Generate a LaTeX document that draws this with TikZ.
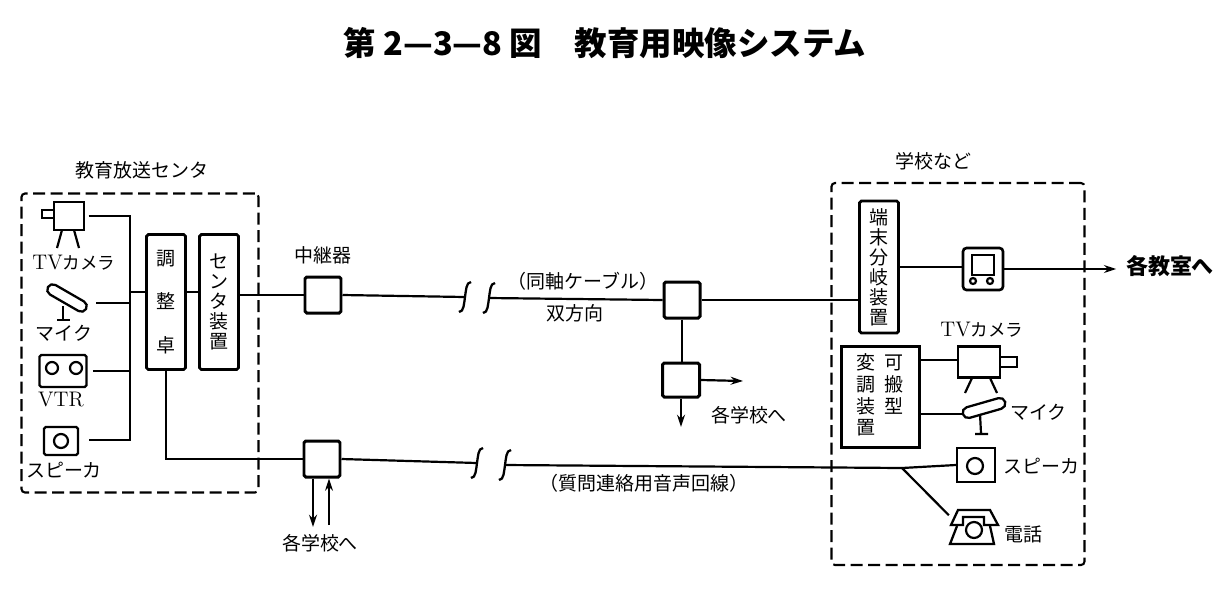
\documentclass[tikz,border=0pt]{standalone}
\usepackage{fontspec}
\newfontfamily\cjk{Noto Sans CJK JP}
\usetikzlibrary{arrows.meta, positioning, calc, shapes.misc}

\begin{document}
\begin{tikzpicture}[
    x=0.02cm, y=-0.02cm,
    line width=1.25pt,
    wh/.style 2 args={minimum width=#1*0.02cm, minimum height=#2*0.02cm, inner sep=0pt},
    unit/.style={draw, line width=1.6pt, rounded corners=1pt, align=center, font=\cjk\fontsize{10.8}{11.38}\selectfont},
    relay/.style={draw, line width=1.7pt, rounded corners=1pt, wh={36}{36}},
    gadget/.style={draw, line width=1.3pt},
    group/.style={draw, line width=1.2pt, dash pattern=on 0.24cm off 0.11cm},
    lbl/.style={font=\cjk\fontsize{10.8}{12}\selectfont, inner sep=0pt},
    arrow/.style={-{Stealth[length=7pt, width=4.5pt]}, line width=1.25pt},
    mike/.style={gadget, rounded rectangle, wh={44}{11}},
    brk/.pic={\draw[line width=1.3pt] (6,-15) .. controls (1,-15) and (1,-6) .. (0,0) .. controls (-1,6) and (-1,15) .. (-6,15);}
]
    \useasboundingbox (0,0) rectangle (1229,589);

    % Title
    \node[font=\cjk\bfseries\fontsize{18.5}{20}\selectfont, inner sep=0pt] (title) at (605,43) {第 2—3—8 図\hspace{1em}教育用映像システム};

    % Dashed groups
    \node[group, wh={237}{299}, rounded corners=2pt] (sendbox) at (140,343) {};
    \node[group, wh={253}{382}, rounded corners=2pt] (schoolbox) at (958,374) {};
    \node[lbl, above=7pt of sendbox.north, xshift=1pt] (sendlbl) {教育放送センタ};
    \node[lbl, above=6pt of schoolbox.north, xshift=-14pt] (schoollbl) {学校など};

    % Center side units
    \node[unit, wh={39}{135}] (adj) at (166,302) {調\\[13.2pt]整\\[13.2pt]卓};
    \node[unit, wh={39}{135}] (cen) at (219,302) {セ\\ン\\タ\\装\\置};
    \node[relay] (relA) at (323,295) {};
    \node[relay] (relB) at (322,459) {};
    \node[lbl, above=6pt of relA] (relAlbl) {中継器};
    \node[lbl] (relBlbl) at (320,543) {各学校へ};

    % Left gadgets
    \node[gadget, wh={30}{28}] (camL) at (69,216) {};
    \draw[gadget] (camL.west |- 0,210) -- (42,210) -- (42,218) -- (camL.west |- 0,218);
    \draw (62,230) -- (57,248) (74,230) -- (79,248);
    \node[font=\fontsize{12}{12}\selectfont, inner sep=0pt] (camLlbl) at (74,263) {TV\cjk\fontsize{10}{12}\selectfont カメラ};
    \node[mike, rotate=-30] (micL) at (67,298) {};
    \draw (63,306) -- (63,320) (57,320) -- (70,320);
    \node[lbl] (micLlbl) at (64,333) {マイク};
    \node[gadget, rounded corners=1pt, wh={47}{32}] (vtrL) at (63,371) {};
    \draw (52,368) circle (6) (76,368) circle (6);
    \node[font=\fontsize{12}{12}\selectfont, inner sep=0pt] (vtrLlbl) at (61,400) {VTR};
    \node[gadget, rounded corners=1pt, wh={34}{28}] (spkL) at (61,441) {};
    \draw (61,441) circle (7);
    \node[lbl] (spkLlbl) at (64,470) {スピーカ};

    % Left wiring
    \coordinate (hub) at (130,292);
    \draw[shorten <=2pt] (camL.east) -| (hub);
    \draw (hub) |- ($(spkL.east)+(10,-1)$);
    \draw ($(micL.center)+(29,5)$) -| (hub);
    \draw[shorten <=3pt] (vtrL.east) -- (vtrL.east -| hub);
    \draw (hub) -- (hub -| adj.west);
    \draw (adj.east |- hub) -- (cen.west |- hub);
    \draw (cen.east |- relA) -- (relA.west);
    \draw (adj.south) |- (relB.west);

    % Coaxial line
    \coordinate (brkA) at (465,297);
    \coordinate (brkB) at (489,298);
    \coordinate (brkC) at (477,463);
    \coordinate (brkD) at (505,465);
    \pic at (brkA) {brk};
    \pic at (brkB) {brk};
    \pic at (brkC) {brk};
    \pic at (brkD) {brk};
    \node[lbl] (coaxlbl) at (583,281) {（同軸ケーブル）};
    \node[lbl] (duplbl) at (575,313) {双方向};
    \node[relay] (tap) at (682,300) {};
    \node[relay, wh={37}{34}] (split) at (681,380) {};
    \node[lbl] (splitlbl) at (749,415) {各学校へ};
    \coordinate (splitR) at (743,381);
    \coordinate (splitD) at (681,427);
    \draw (relA.east) -- (brkA);
    \draw (brkB) -- (tap.west);
    \draw (tap.south) -- (tap.south |- split.north);
    \draw[arrow] (split.east) -- (splitR);
    \draw[arrow] (split.south) -- (splitD);

    % Audio line
    \node[lbl] (audiolbl) at (644,483) {（質問連絡用音声回線）};
    \coordinate (fork) at (902,468);
    \coordinate (downB) at (313,527);
    \coordinate (upB) at (329,525);
    \draw (relB.east) -- (brkC);
    \draw (brkD) -- (fork);
    \draw[arrow] (relB.south -| downB) -- (downB);
    \draw[arrow] (upB) -- (relB.south -| upB);

    % School side units
    \node[unit, wh={39}{132}] (term) at (879,267) {端\\末\\分\\岐\\装\\置};
    \node[unit, line width=1.7pt, rounded corners=0pt, wh={78}{101}] (mod) at (880,397) {\begin{tabular}{@{}c@{\hskip 5pt}c@{}}変&可\\調&搬\\装&型\\置&\end{tabular}};
    \draw (tap.east) -- (tap.east -| term.west);

    % Monitor
    \node[gadget, line width=1.5pt, rounded corners=2pt, wh={40}{42}] (mon) at (983,269) {};
    \draw (972,255) rectangle (994,275);
    \draw (973,281) circle (3) (990,281) circle (3);
    \node[font=\cjk\bfseries\fontsize{12.5}{14}\selectfont, inner sep=0pt] (roomlbl) at (1170,266) {各教室へ};
    \draw (mon.west |- term.east) -- (term.east);
    \draw[arrow, shorten >=5pt] (mon.east) -- (roomlbl.west |- mon.east);

    % Right gadgets
    \node[gadget, wh={42}{31}] (camR) at (979,362) {};
    \draw[gadget] (camR.east |- 0,357) -- (1017,357) -- (1017,367) -- (camR.east |- 0,367);
    \draw (972,378) -- (965,393) (990,378) -- (997,393);
    \node[font=\fontsize{12}{12}\selectfont, inner sep=0pt] (camRlbl) at (982,330) {TV\cjk\fontsize{10}{12}\selectfont カメラ};
    \node[mike, rotate=16] (micR) at (984,408) {};
    \draw (980,414) -- (981,433) (975,434) -- (988,434);
    \node[lbl, anchor=west] (micRlbl) at (1009,412) {マイク};
    \node[gadget, wh={38}{34}] (spkR) at (976,465) {};
    \draw (975,466) circle (8);
    \node[lbl, anchor=west] (spkRlbl) at (1002,466) {スピーカ};
    \node[wh={48}{36}] (phone) at (974,527) {};
    \draw[gadget] (951,525) -- (958,510) -- (990,510) -- (998,525) -- (984,525) -- (984,517) -- (963,517) -- (963,525) -- cycle;
    \draw[gadget] (957,526) -- (950,544) -- (994,544) -- (990,526);
    \draw[fill=white] (974,530) circle (8);
    \node[lbl, anchor=west] (phonelbl) at (1003,534) {電話};

    % School side wiring
    \draw (mod.east |- camR.west) ++(0,-2) -- (camR.west |- 0,360);
    \draw (mod.east |- micR.west) -- (micR.west);
    \draw (fork) -- (spkR.west);
    \draw (fork) -- (phone.155);
\end{tikzpicture}
\end{document}
